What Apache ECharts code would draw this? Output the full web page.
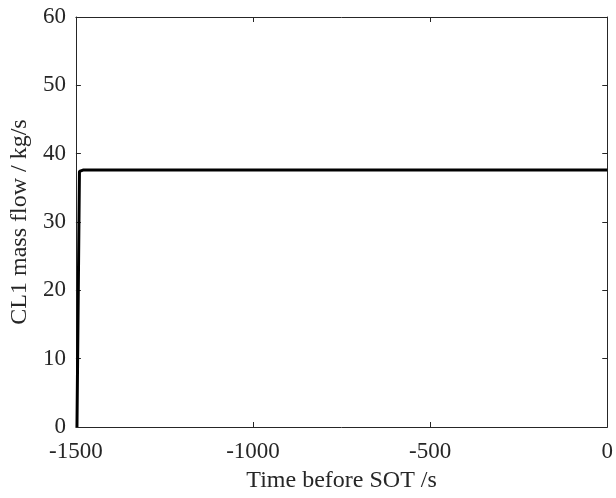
<!DOCTYPE html>
<html>
<head>
<meta charset="utf-8">
<script src="https://cdn.jsdelivr.net/npm/echarts@6/dist/echarts.min.js"></script>
<style>
html,body{margin:0;padding:0;background:#fff;}
#chart{width:616px;height:498px;}
</style>
</head>
<body>
<div id="chart"></div>
<script>
// Data
var timeValues = [-1497, -1490, -1480, 0];
var massFlowValues = [0, 37.4, 37.6, 37.6];
var xTicks = [-1500, -1000, -500, 0];
var yTicks = [0, 10, 20, 30, 40, 50, 60];

var seriesData = timeValues.map(function (t, i) { return [t, massFlowValues[i]]; });

var font = '"Liberation Serif", "Times New Roman", serif';
var ink = '#262626';

var chart = echarts.init(document.getElementById('chart'));
function axisCommon() {
  return {
    axisLine: { show: true, onZero: false, lineStyle: { color: ink, width: 1 } },
    axisTick: { show: true, inside: true, length: 5, lineStyle: { color: ink, width: 1 } },
    splitLine: { show: false }
  };
}
chart.setOption({
  animation: false,
  backgroundColor: '#fff',
  grid: { left: 74, right: 6, top: 17, bottom: 67, containLabel: false },
  xAxis: [
    Object.assign({
      type: 'value', min: xTicks[0], max: xTicks[xTicks.length - 1], interval: 500,
      position: 'bottom',
      name: 'Time before SOT /s', nameLocation: 'middle', nameGap: 42,
      nameTextStyle: { fontFamily: font, fontSize: 24, color: ink },
      axisLabel: { fontFamily: font, fontSize: 23, color: ink, margin: 13,
        formatter: function (v) { return String(v); } }
    }, axisCommon()),
    Object.assign({
      type: 'value', min: xTicks[0], max: xTicks[xTicks.length - 1], interval: 500,
      position: 'top', axisLabel: { show: false }
    }, axisCommon())
  ],
  yAxis: [
    Object.assign({
      type: 'value', min: yTicks[0], max: yTicks[yTicks.length - 1], interval: 10,
      position: 'left',
      name: 'CL1 mass flow / kg/s', nameLocation: 'middle', nameGap: 43,
      nameTextStyle: { fontFamily: font, fontSize: 24, color: ink },
      axisLabel: { fontFamily: font, fontSize: 23, color: ink, margin: 10,
        formatter: function (v) { return String(v); } }
    }, axisCommon()),
    Object.assign({
      type: 'value', min: yTicks[0], max: yTicks[yTicks.length - 1], interval: 10,
      position: 'right', axisLabel: { show: false }
    }, axisCommon())
  ],
  series: [{
    type: 'line',
    data: seriesData,
    xAxisIndex: 0, yAxisIndex: 0,
    showSymbol: false,
    lineStyle: { color: '#000', width: 3 },
    clip: true
  }]
});
</script>
</body>
</html>
